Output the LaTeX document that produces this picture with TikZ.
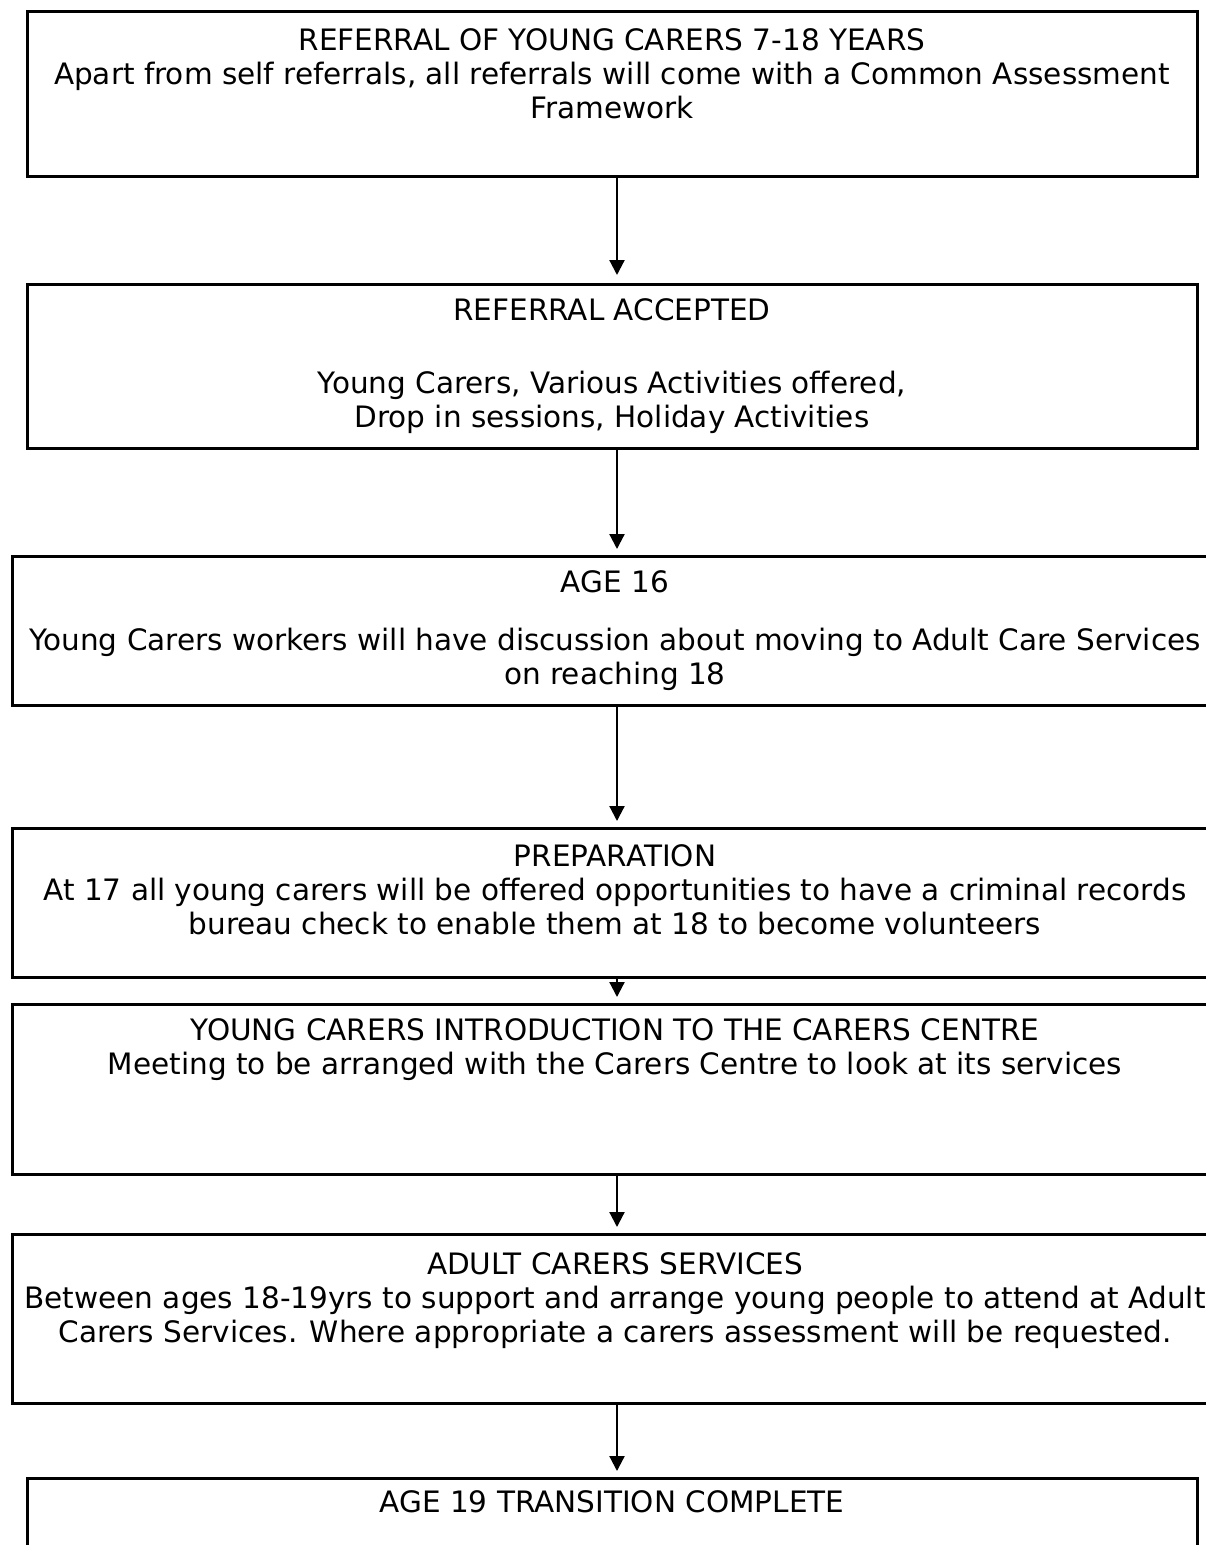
\documentclass[tikz,border=0pt]{standalone}
\usepackage{fontspec}
\setmainfont{DejaVu Sans}
\usetikzlibrary{arrows.meta}
\begin{document}
\begin{tikzpicture}[x=1pt,y=-1pt,
  stepbox/.style={draw, line width=3pt, inner sep=0pt, outer sep=0pt, anchor=north west},
  txt/.style={anchor=north, align=center, inner sep=0pt, font=\fontsize{29.5}{34}\selectfont},
  arr/.style={line width=2.2pt, -{Triangle[length=15pt,width=15pt]}, shorten >=7pt}
]
\useasboundingbox (0,0) rectangle (1206,1545);
\clip (0,0) rectangle (1206,1545);
\fill[white] (0,0) rectangle (1206,1545);
\coordinate (ax) at (617,0);

\node[stepbox, minimum width=1170pt, minimum height=165pt] (b1) at (27,11) {};
\node[stepbox, minimum width=1170pt, minimum height=164pt] (b2) at (27,284) {};
\node[stepbox, minimum width=1206pt, minimum height=149pt] (b3) at (12,556) {};
\node[stepbox, minimum width=1206pt, minimum height=149pt] (b4) at (12,828) {};
\node[stepbox, minimum width=1206pt, minimum height=170pt] (b5) at (12,1004) {};
\node[stepbox, minimum width=1206pt, minimum height=169pt] (b6) at (12,1234) {};
\node[stepbox, minimum width=1170pt, minimum height=120pt] (b7) at (27,1478) {};

\node[txt] (t1) at (612,26) {\strut REFERRAL OF YOUNG CARERS 7-18 YEARS\\Apart from self referrals, all referrals will come with a Common Assessment\\Framework};
\node[txt] (t2) at (612,296) {\strut REFERRAL ACCEPTED\\[5pt]\strut\\Young Carers, Various Activities offered,\\Drop in sessions, Holiday Activities};
\node[txt] (t3) at (615,568) {\strut AGE 16\\[24pt]Young Carers workers will have discussion about moving to Adult Care Services\\on reaching 18};
\node[txt] (t4) at (615,842) {\strut PREPARATION\\At 17 all young carers will be offered opportunities to have a criminal records\\bureau check to enable them at 18 to become volunteers};
\node[txt] (t5) at (615,1016) {\strut YOUNG CARERS INTRODUCTION TO THE CARERS CENTRE\\Meeting to be arranged with the Carers Centre to look at its services};
\node[txt] (t6) at (615,1250) {\strut ADULT CARERS SERVICES\\Between ages 18-19yrs to support and arrange young people to attend at Adult\\Carers Services. Where appropriate a carers assessment will be requested.};
\node[txt] (t7) at (612,1488) {\strut AGE 19 TRANSITION COMPLETE};

\draw[arr, shorten >=9pt] (b1.south -| ax) -- (b2.north -| ax);
\draw[arr] (b2.south -| ax) -- (b3.north -| ax);
\draw[arr] (b3.south -| ax) -- (b4.north -| ax);
\draw[arr] (b4.south -| ax) -- (b5.north -| ax);
\draw[arr] (b5.south -| ax) -- (b6.north -| ax);
\draw[arr] (b6.south -| ax) -- (b7.north -| ax);
\end{tikzpicture}
\end{document}
